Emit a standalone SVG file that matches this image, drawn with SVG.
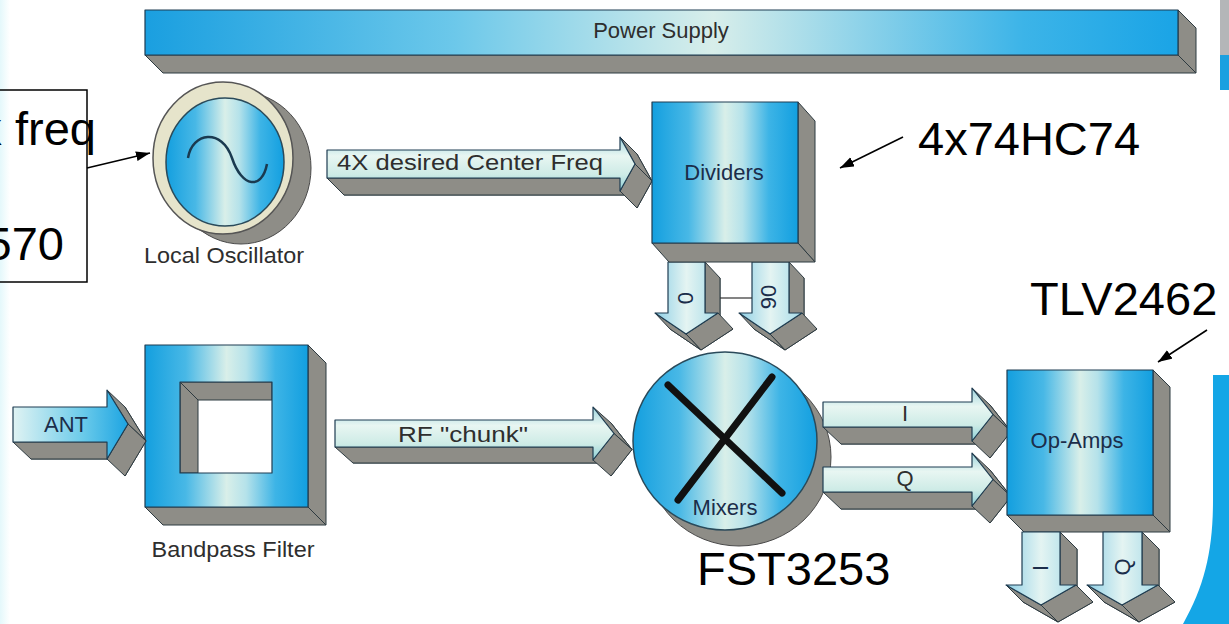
<svg xmlns="http://www.w3.org/2000/svg" width="1229" height="624" viewBox="0 0 1229 624">
<style>
.side{fill:#8e8d87;stroke:#2d3a40;stroke-width:1;stroke-linejoin:round}
.face{stroke:#1f3d52;stroke-width:1.2;stroke-linejoin:round}
.lbl{font-family:"Liberation Sans",Arial,sans-serif;font-size:22px;fill:#2e2e2e}
.nlbl{font-family:"Liberation Sans",Arial,sans-serif;font-size:22px;fill:#1b2d4a}
.big{font-family:"Liberation Sans",Arial,sans-serif;font-size:47px;fill:#000}
.ann{stroke:#000;stroke-width:1.6;fill:none}
</style>
<defs>
<linearGradient id="gBlue" x1="0" y1="0" x2="1" y2="0">
<stop offset="0" stop-color="#139fdf"/><stop offset="0.25" stop-color="#48b8e6"/><stop offset="0.5" stop-color="#d9efe9"/><stop offset="0.62" stop-color="#b5e2ea"/><stop offset="0.8" stop-color="#3db4e6"/><stop offset="1" stop-color="#129fe0"/>
</linearGradient>
<linearGradient id="gBar" x1="0" y1="0" x2="1" y2="0">
<stop offset="0" stop-color="#1a9fe0"/><stop offset="0.3" stop-color="#6cc8ea"/><stop offset="0.55" stop-color="#d8eeea"/><stop offset="0.85" stop-color="#3cb4e8"/><stop offset="1" stop-color="#1aa4e6"/>
</linearGradient>
<linearGradient id="gPipe" x1="0" y1="0" x2="0" y2="1">
<stop offset="0" stop-color="#9fd5dd"/><stop offset="0.35" stop-color="#e8f6f2"/><stop offset="0.7" stop-color="#cdebe6"/><stop offset="1" stop-color="#8ccfd6"/>
</linearGradient>
<linearGradient id="gPipeV" x1="0" y1="0" x2="1" y2="0">
<stop offset="0" stop-color="#8fd0e6"/><stop offset="0.5" stop-color="#e4f4f2"/><stop offset="1" stop-color="#a6dbe8"/>
</linearGradient>
<linearGradient id="gAnt" x1="0" y1="0" x2="1" y2="0">
<stop offset="0" stop-color="#e0f3f3"/><stop offset="0.6" stop-color="#6ccbea"/><stop offset="1" stop-color="#1ca4e2"/>
</linearGradient>
<linearGradient id="gEdge" x1="0" y1="0" x2="1" y2="0">
<stop offset="0" stop-color="#e4f8fb"/><stop offset="1" stop-color="#ffffff"/>
</linearGradient>
<marker id="ah" markerUnits="userSpaceOnUse" markerWidth="16" markerHeight="12" refX="14" refY="5" orient="auto">
<path d="M0,0 L14,5 L0,10 z" fill="#000"/>
</marker>
</defs>
<rect width="1229" height="624" fill="#fff"/>
<rect x="0" y="0" width="10" height="624" fill="url(#gEdge)"/>
<rect x="1220" y="0" width="9" height="55" fill="#b4b6b8"/>
<rect x="1220" y="55" width="9" height="35" fill="#1aa0e0"/>
<path d="M1213,375 L1229,375 L1229,624 L1183,624 C1205,585 1213,550 1213,500 Z" fill="#14a6e6"/>

<g id="power-supply">
<polygon class="side" points="145,55 1178,55 1196,73 163,73"/>
<polygon class="side" points="1178,10 1196,28 1196,73 1178,55"/>
<rect class="face" x="145" y="10" width="1033" height="45" fill="url(#gBar)"/>
<text class="lbl" x="661" y="38" text-anchor="middle" fill="#222">Power Supply</text>
</g>

<g id="local-oscillator">
<polygon points="254.9,90.3 272.9,100.3 209.1,235.7 191.1,225.7" fill="#8e8d87"/>
<ellipse cx="241" cy="168" rx="70" ry="76" fill="#8e8d87" stroke="#4a4a4a" stroke-width="1"/>
<ellipse cx="223" cy="158" rx="70" ry="76" fill="#e6e4cb" stroke="#555" stroke-width="1.5"/>
<ellipse cx="225" cy="162" rx="59" ry="64" fill="url(#gBlue)" stroke="#2a4a5a" stroke-width="1.5"/>
<path d="M188,158 C192,132 222,128 232,158 C242,188 262,190 267,164" fill="none" stroke="#1a3a50" stroke-width="2.5"/>
<text class="lbl" x="224" y="263" text-anchor="middle" textLength="160" lengthAdjust="spacingAndGlyphs" fill="#3a3a3a">Local Oscillator</text>
</g>

<g id="connectors">
<g id="arrow-4x">
<polygon class="side" points="344,167 637,167 637,154 652,181 637,208 637,195 344,195"/>
<polygon class="side" points="327,178 620,178 637,195 344,195"/>
<polygon class="side" points="620,137 635,164 652,181 637,154"/>
<polygon class="side" points="635,164 620,191 637,208 652,181"/>
<polygon class="face" points="327,150 620,150 620,137 635,164 620,191 620,178 327,178" fill="url(#gPipe)"/>
<text class="lbl" x="337" y="170" textLength="266" lengthAdjust="spacingAndGlyphs" fill="#1a1a1a">4X desired Center Freq</text>
</g>
<g id="arrow-0">
<polygon class="side" points="683,278 720,278 720,329 733,329 701,350 670,329 683,329"/>
<polygon class="side" points="705,262 720,278 720,329 705,313"/>
<polygon class="side" points="718,313 686,334 701,350 733,329"/>
<polygon class="side" points="686,334 655,313 670,329 701,350"/>
<polygon class="face" points="668,262 705,262 705,313 718,313 686,334 655,313 668,313" fill="url(#gPipeV)"/>
<text class="nlbl" transform="translate(687,298) rotate(-90)" x="0" y="6" text-anchor="middle" font-size="18">0</text>
</g>
<g id="arrow-90">
<polygon class="side" points="767,278 804,278 804,329 817,329 785,350 754,329 767,329"/>
<polygon class="side" points="789,262 804,278 804,329 789,313"/>
<polygon class="side" points="802,313 770,334 785,350 817,329"/>
<polygon class="side" points="770,334 739,313 754,329 785,350"/>
<polygon class="face" points="752,262 789,262 789,313 802,313 770,334 739,313 752,313" fill="url(#gPipeV)"/>
<text class="nlbl" transform="translate(770,297) rotate(-90)" x="0" y="6" text-anchor="middle" font-size="18">90</text>
</g>
<line x1="720" y1="298" x2="752" y2="298" stroke="#333" stroke-width="1.2"/>
</g>

<g id="dividers">
<polygon class="side" points="798,102 815,121 815,262 798,243"/>
<polygon class="side" points="652,243 798,243 815,262 669,262"/>
<rect class="face" x="652" y="102" width="146" height="141" fill="url(#gBlue)"/>
<text class="nlbl" x="724" y="180" text-anchor="middle">Dividers</text>
</g>

<g id="mixers">
<polygon points="792.8,381.7 806.8,397.7 671.2,516.3 657.2,500.3" fill="#8e8d87"/>
<ellipse cx="739" cy="457" rx="92" ry="89" fill="#8e8d87" stroke="#4a4a4a" stroke-width="1"/>
<ellipse cx="725" cy="441" rx="92" ry="89" fill="url(#gBlue)" stroke="#2a4a5a" stroke-width="1.5"/>
<line x1="668" y1="385" x2="782" y2="493" stroke="#111" stroke-width="7" stroke-linecap="round"/>
<line x1="772" y1="377" x2="678" y2="500" stroke="#111" stroke-width="7" stroke-linecap="round"/>
<text class="nlbl" x="725" y="515" text-anchor="middle" font-size="21">Mixers</text>
</g>

<g id="bandpass-filter">
<polygon class="side" points="308,345 326,363 326,525 308,507"/>
<polygon class="side" points="145,507 308,507 326,525 163,525"/>
<rect x="180" y="382" width="92" height="91" fill="#fff"/>
<polygon class="side" points="180,382 272,382 272,400 198,400"/>
<polygon class="side" points="180,382 198,400 198,473 180,473"/>
<path class="face" fill-rule="evenodd" d="M145,345 H308 V507 H145 Z M180,382 V473 H272 V382 Z" fill="url(#gBlue)"/>
<text class="lbl" x="233" y="557" text-anchor="middle" textLength="163" lengthAdjust="spacingAndGlyphs" fill="#3a3a3a">Bandpass Filter</text>
</g>

<g id="connectors-2">
<g id="arrow-ant">
<polygon class="side" points="31,424 125,424 125,407 146,441 125,476 125,459 31,459"/>
<polygon class="side" points="13,442 107,442 125,459 31,459"/>
<polygon class="side" points="107,390 128,424 146,441 125,407"/>
<polygon class="side" points="128,424 107,459 125,476 146,441"/>
<polygon class="face" points="13,407 107,407 107,390 128,424 107,459 107,442 13,442" fill="url(#gAnt)"/>
<text class="nlbl" x="66" y="432" text-anchor="middle" font-size="21">ANT</text>
</g>
<g id="arrow-rf">
<polygon class="side" points="353,436 611,436 611,423 632,449.5 611,476 611,463 353,463"/>
<polygon class="side" points="335,447 593,447 611,463 353,463"/>
<polygon class="side" points="593,407 614,433.5 632,449.5 611,423"/>
<polygon class="side" points="614,433.5 593,460 611,476 632,449.5"/>
<polygon class="face" points="335,420 593,420 593,407 614,433.5 593,460 593,447 335,447" fill="url(#gPipe)"/>
<text class="lbl" x="398" y="442" textLength="130" lengthAdjust="spacingAndGlyphs" fill="#1a1a1a">RF "chunk"</text>
</g>
<g id="arrow-i">
<polygon class="side" points="841,419 990,419 990,405 1011,431.5 990,458 990,444 841,444"/>
<polygon class="side" points="823,427 972,427 990,444 841,444"/>
<polygon class="side" points="972,388 993,414.5 1011,431.5 990,405"/>
<polygon class="side" points="993,414.5 972,441 990,458 1011,431.5"/>
<polygon class="face" points="823,402 972,402 972,388 993,414.5 972,441 972,427 823,427" fill="url(#gPipe)"/>
<text class="lbl" x="905" y="421" text-anchor="middle" font-size="19">I</text>
</g>
<g id="arrow-q">
<polygon class="side" points="841,484 990,484 990,470 1011,496.5 990,523 990,509 841,509"/>
<polygon class="side" points="823,492 972,492 990,509 841,509"/>
<polygon class="side" points="972,453 993,479.5 1011,496.5 990,470"/>
<polygon class="side" points="993,479.5 972,506 990,523 1011,496.5"/>
<polygon class="face" points="823,467 972,467 972,453 993,479.5 972,506 972,492 823,492" fill="url(#gPipe)"/>
<text class="lbl" x="905" y="486" text-anchor="middle" font-size="19">Q</text>
</g>
</g>

<g id="op-amps">
<polygon class="side" points="1153,370 1170,387 1170,532 1153,515"/>
<polygon class="side" points="1007,515 1153,515 1170,532 1024,532"/>
<rect class="face" x="1007" y="370" width="146" height="145" fill="url(#gBlue)"/>
<text class="nlbl" x="1077" y="448" text-anchor="middle">Op-Amps</text>
</g>

<g id="connectors-3">
<g id="arrow-out-i">
<polygon class="side" points="1039,549 1077,549 1077,602 1093,602 1058,622 1023,602 1039,602"/>
<polygon class="side" points="1060,532 1077,549 1077,602 1060,585"/>
<polygon class="side" points="1076,585 1041,605 1058,622 1093,602"/>
<polygon class="side" points="1041,605 1006,585 1023,602 1058,622"/>
<polygon class="face" points="1022,532 1060,532 1060,585 1076,585 1041,605 1006,585 1022,585" fill="url(#gPipeV)"/>
<text class="nlbl" transform="translate(1041,568) rotate(-90)" x="0" y="7" text-anchor="middle" font-size="19">I</text>
</g>
<g id="arrow-out-q">
<polygon class="side" points="1120,549 1159,549 1159,602 1175,602 1139,622 1104,602 1120,602"/>
<polygon class="side" points="1142,532 1159,549 1159,602 1142,585"/>
<polygon class="side" points="1158,585 1122,605 1139,622 1175,602"/>
<polygon class="side" points="1122,605 1087,585 1104,602 1139,622"/>
<polygon class="face" points="1103,532 1142,532 1142,585 1158,585 1122,605 1087,585 1103,585" fill="url(#gPipeV)"/>
<text class="nlbl" transform="translate(1123,567) rotate(-90)" x="0" y="7" text-anchor="middle" font-size="19">Q</text>
</g>
</g>

<g id="annotation-osc">
<rect x="-2" y="90" width="89" height="192" fill="none" stroke="#000" stroke-width="1.5"/>
<text class="big" x="96" y="145" text-anchor="end">x freq</text>
<text class="big" x="64" y="260" text-anchor="end">570</text>
</g>
<g id="annotation-dividers">
<text class="big" x="918" y="155">4x74HC74</text>
</g>
<g id="annotation-opamps">
<text class="big" x="1030" y="315">TLV2462</text>
</g>
<g id="annotation-mixers">
<text class="big" x="697" y="585">FST3253</text>
</g>
<g id="annotation-arrows">
<line class="ann" x1="87" y1="168" x2="150" y2="153" marker-end="url(#ah)"/>
<line class="ann" x1="903" y1="137" x2="840" y2="168" marker-end="url(#ah)"/>
<line class="ann" x1="1207" y1="330" x2="1158" y2="362" marker-end="url(#ah)"/>
</g>
</svg>
